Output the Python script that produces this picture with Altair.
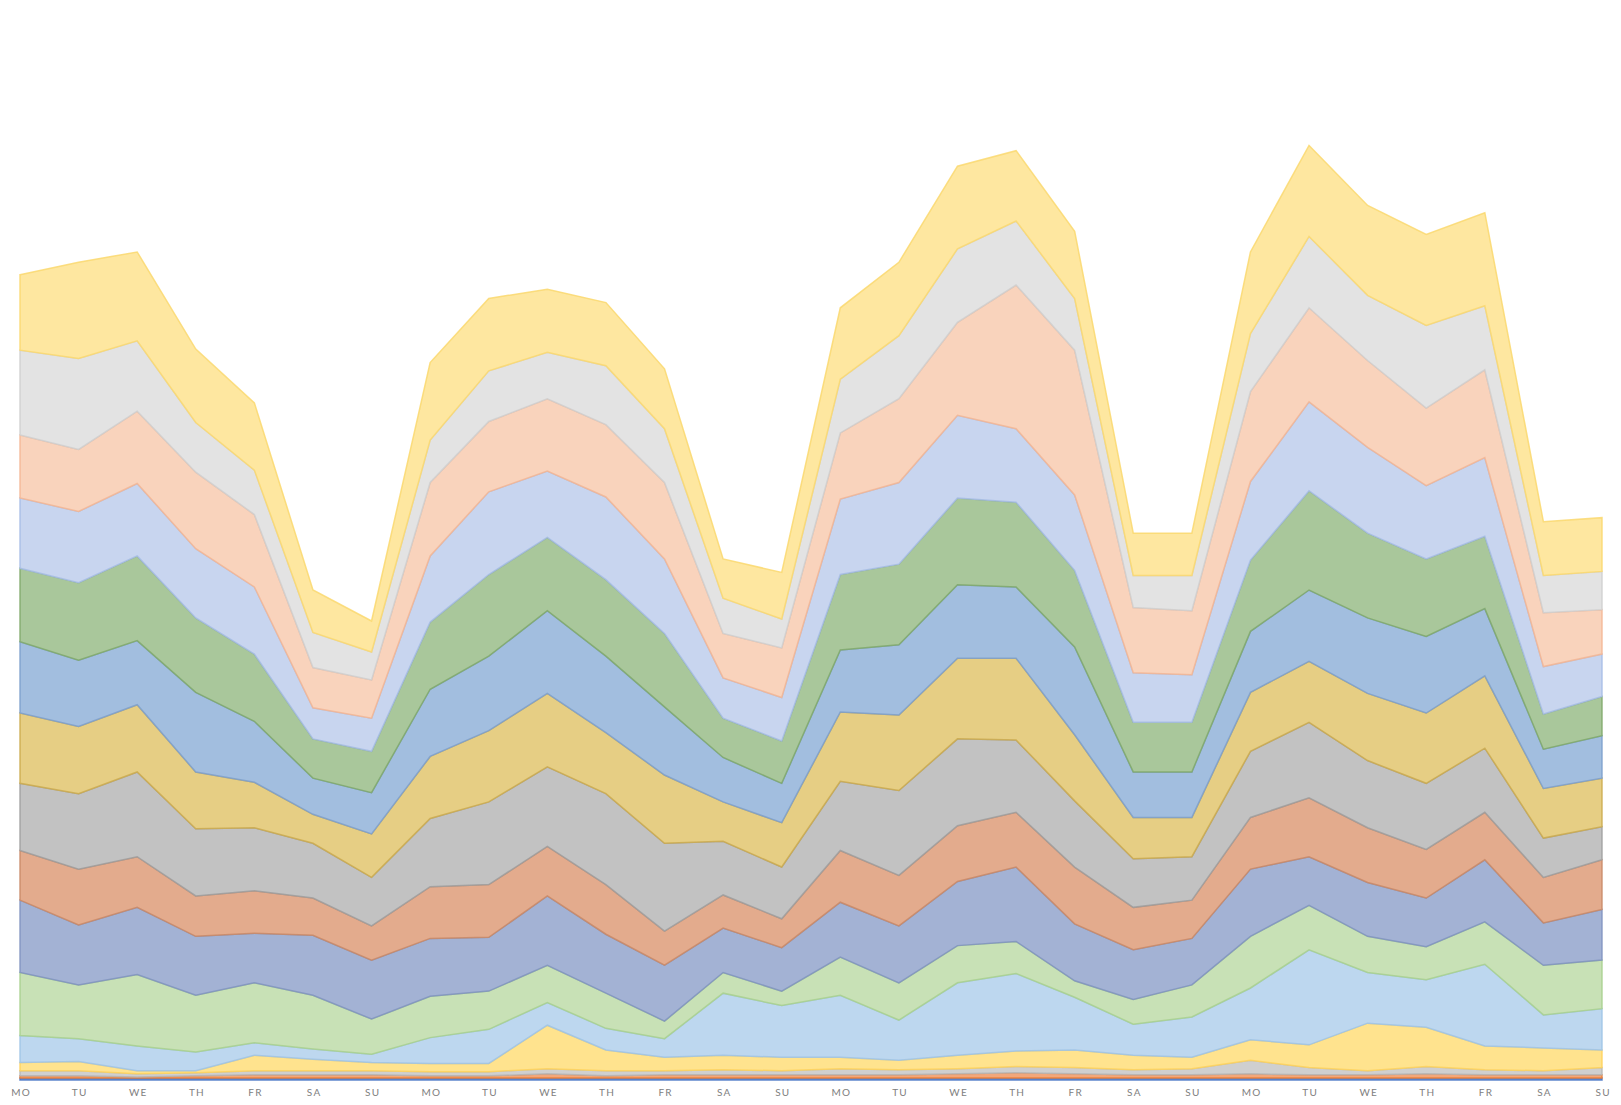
import altair as alt
import pandas as pd

days = ["MO", "TU", "WE", "TH", "FR", "SA", "SU"]
x_labels = days * 4

series_names = [
    "S1", "S2", "S3", "S4", "S5", "S6", "S7", "S8",
    "S9", "S10", "S11", "S12", "S13", "S14", "S15", "S16",
]

s1 = [2] * 28
s2 = [2, 2, 1, 2, 3, 3, 3, 2, 2, 4, 2, 3, 3, 3, 3, 3, 4, 5, 4, 3, 3, 4, 3, 3, 4, 3, 3, 3]
s3 = [5, 5, 3, 3, 4, 4, 4, 4, 4, 5, 5, 4, 5, 4, 6, 5, 5, 6, 6, 5, 6, 13, 7, 4, 7, 5, 4, 7]
s4 = [8, 9, 3, 2, 15, 11, 8, 8, 8, 42, 20, 13, 14, 13, 11, 9, 13, 15, 17, 14, 11, 20, 22, 46, 38, 23, 22, 17]
s5 = [26, 22, 24, 18, 12, 10, 8, 25, 33, 22, 21, 18, 60, 50, 60, 39, 70, 75, 51, 30, 39, 50, 92, 49, 46, 79, 32, 40]
s6 = [61, 52, 69, 55, 58, 52, 34, 40, 37, 36, 34, 17, 20, 14, 37, 36, 36, 31, 16, 24, 31, 50, 43, 35, 32, 41, 48, 47]
s7 = [70, 58, 65, 57, 48, 58, 57, 56, 52, 67, 57, 54, 43, 42, 53, 55, 62, 72, 55, 48, 45, 65, 47, 52, 47, 60, 41, 49]
s8 = [48, 54, 49, 39, 41, 36, 33, 50, 51, 48, 48, 33, 32, 28, 50, 49, 54, 53, 55, 41, 37, 50, 57, 53, 47, 46, 44, 48]
s9 = [65, 73, 82, 65, 61, 53, 47, 66, 80, 77, 88, 85, 52, 50, 67, 82, 84, 70, 64, 47, 42, 64, 73, 65, 64, 62, 38, 32]
s10 = [68, 65, 65, 55, 44, 28, 42, 60, 69, 71, 59, 66, 38, 43, 67, 73, 78, 79, 64, 40, 38, 57, 59, 65, 68, 70, 48, 47]
s11 = [69, 64, 62, 77, 59, 35, 40, 65, 72, 80, 74, 66, 43, 38, 60, 68, 71, 69, 85, 44, 44, 59, 69, 73, 74, 65, 38, 41]
s12 = [71, 75, 82, 72, 65, 38, 40, 65, 79, 71, 74, 71, 38, 41, 73, 78, 84, 82, 74, 48, 48, 69, 96, 82, 75, 70, 34, 38]
s13 = [68, 69, 70, 67, 65, 30, 32, 64, 80, 64, 80, 72, 39, 42, 73, 79, 80, 71, 73, 48, 46, 76, 86, 83, 71, 76, 46, 41]
s14 = [61, 60, 70, 74, 70, 39, 37, 71, 68, 70, 70, 74, 43, 48, 64, 81, 90, 139, 140, 63, 62, 87, 91, 84, 75, 85, 52, 43]
s15 = [82, 88, 68, 48, 43, 34, 27, 41, 49, 45, 57, 52, 34, 28, 52, 61, 71, 62, 50, 31, 34, 56, 69, 63, 80, 62, 36, 37]
s16 = [73, 93, 86, 71, 65, 41, 30, 75, 70, 61, 61, 58, 38, 45, 69, 71, 80, 68, 65, 41, 41, 79, 88, 87, 88, 90, 52, 52]

series_values = [s1, s2, s3, s4, s5, s6, s7, s8, s9, s10, s11, s12, s13, s14, s15, s16]

fills = [
    "#7e9fd8", "#f2a77a", "#cfcfcf", "#ffe38e", "#bdd7ef", "#c8e1b6",
    "#a3b2d4", "#e3ab8d", "#c2c2c2", "#e6ce84", "#a2bedf", "#a9c79b",
    "#c8d5ef", "#f9d3bc", "#e3e3e3", "#fee7a0",
]
strokes = [
    "#4472c4", "#ed7d31", "#b5b5b5", "#ffd25a", "#9dc3e6", "#a8d08d",
    "#7f92be", "#c98866", "#9e9e9e", "#cbaa4e", "#7c9fcb", "#7fa86a",
    "#a6bce5", "#f3b593", "#cfcfcf", "#fad86e",
]

rows = []
for k, (name, vals) in enumerate(zip(series_names, series_values)):
    for i, v in enumerate(vals):
        rows.append({"idx": i, "day": x_labels[i], "series": name, "order": k, "value": v})
df = pd.DataFrame(rows)

thin = "\u2009"
spaced = [thin.join(list(d)) for d in x_labels]
label_expr = "[" + ",".join("'" + s + "'" for s in spaced) + "][datum.value]"

chart = (
    alt.Chart(df)
    .mark_area(strokeWidth=1.5, strokeOpacity=0.85, fillOpacity=1)
    .encode(
        x=alt.X(
            "idx:Q",
            scale=alt.Scale(domain=[0, 27], nice=False, zero=False),
            axis=alt.Axis(
                values=list(range(28)),
                labelExpr=label_expr,
                grid=False,
                ticks=False,
                domain=False,
                title=None,
                labelFont="Lato",
                labelFontSize=10,
                labelColor="#808080",
                labelPadding=7,
                labelFlush=False,
                labelOverlap=False,
            ),
        ),
        y=alt.Y(
            "value:Q",
            stack="zero",
            scale=alt.Scale(domain=[0, 1037], nice=False),
            axis=None,
        ),
        color=alt.Color("series:N", scale=alt.Scale(domain=series_names, range=fills), legend=None),
        stroke=alt.Stroke("series:N", scale=alt.Scale(domain=series_names, range=strokes), legend=None),
        order=alt.Order("order:Q", sort="ascending"),
    )
    .properties(
        width=1582,
        height=1072,
        padding={"left": 12, "top": 0, "right": 11, "bottom": 18},
        autosize=alt.AutoSizeParams(type="none"),
    )
    .configure_view(stroke=None)
)

chart.save("out.html", embed_options={"renderer": "svg", "actions": False})
